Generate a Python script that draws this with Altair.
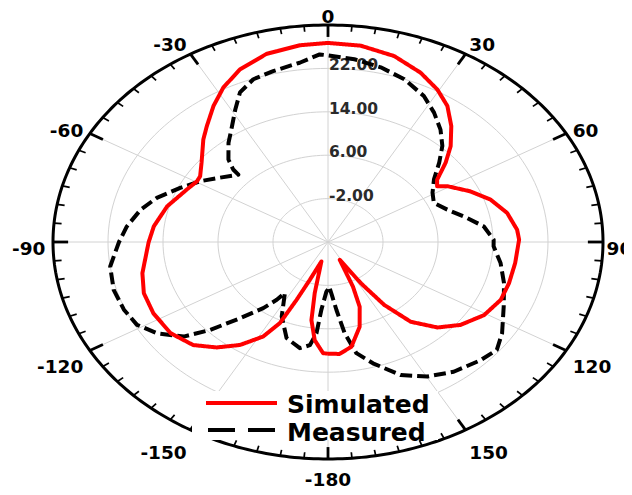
import altair as alt
import pandas as pd

# ---------------- data ----------------
sim_angle = [-180, -178, -173.9, -170.5, -168.4, -165, -159.2, -156.8, -154.9, -151.6, -146,
             -140.2, -134.1, -126.3, -117.4, -109.4, -102, -90.2, -83.5, -74.3, -64.8,
             -59.6, -56.9, -51.5, -43.8, -39.5, -33.6, -28.1, -21.9, -14.5, -6.4,
             0, 7.5, 15.7, 23.3, 29.5, 34.7, 40, 45.3, 49.5, 54.1,
             57.1, 59.4, 65.7, 71.7, 78.4, 85.3, 89.1, 98.1, 106.1, 113,
             120.7, 128.4, 134.7, 140.7, 144.8, 147.8, 152.5, 156.2, 158.9, 163.6,
             170, 175.3, 180]
sim_db = [10.6, 10.5, 8.2, 4.6, -0.4, -6.3, -2.5, 1.6, 6.5, 9.8, 12.9,
          15.3, 17.3, 18.4, 18.6, 18.4, 17.6, 16.1, 15.5, 14.3, 12.7,
          12.1, 12.2, 13.5, 16.2, 17.7, 20.1, 22.3, 24.3, 25.8, 26.5,
          26.7, 26.5, 25.6, 24.0, 22.3, 20.5, 17.9, 15.1, 12.5, 9.6,
          8.9, 10.2, 12.7, 14.9, 16.6, 17.6, 17.8, 17.5, 17.4, 17.3,
          16.4, 14.6, 12.4, 9.0, 4.2, -1.0, -6.3, -1.0, 2.8, 6.3,
          9.6, 10.7, 10.6]

meas_angle = [-180, -178.5, -175.6, -174.3, -172.1, -168.2, -161.2, -153.9, -146.3, -145,
              -142.3, -137.7, -133.4, -129.7, -124.1, -118.8, -112.8, -105.8, -98.1, -90,
              -84.4, -77.7, -71.9, -65.1, -58.9, -53, -46.4, -45.9, -43.6, -38.4,
              -33.2, -28.9, -24.9, -19.9, -14.2, -7.1, -2, 0, 6.5, 13.4,
              20.3, 27.4, 32.9, 38.3, 43.2, 47.9, 53.2, 59.2, 64.9, 71,
              77.6, 82.8, 89, 91.9, 98.8, 106.5, 115, 123.6, 129, 134.5,
              142.6, 149.8, 156.7, 163.7, 168.6, 171.8, 174.4, 176.5, 178.5, 180]
meas_db = [-1.3, -0.8, 2.5, 6.9, 9.2, 10.0, 8.7, 5.3, 1.3, 3.0,
           5.4, 9.0, 13.6, 17.3, 20.0, 21.7, 22.2, 22.4, 22.0, 20.4,
           19.4, 17.9, 16.2, 13.7, 11.7, 9.7, 8.0, 9.2, 11.0, 13.3,
           15.5, 17.9, 20.4, 21.9, 22.5, 23.3, 24.6, 24.4, 23.9, 23.1,
           22.0, 20.3, 18.4, 16.4, 14.3, 11.8, 9.25, 7.7, 7.0, 8.35,
           10.7, 12.85, 14.1, 14.1, 15.4, 16.7, 18.2, 20.4, 21.6, 21.1,
           20.1, 18.7, 16.7, 13.3, 10.9, 7.0, 2.6, 0.0, -1.6, -1.3]

series_names = ["Simulated", "Measured"]
series_colors = ["#ff0000", "#000000"]

ring_db = [-2, 6, 14, 22]
ring_text = ["-2.00", "6.00", "14.00", "22.00"]
spoke_angles = [0, 30, 60, 90, 120, 150, 180, 210, 240, 270, 300, 330]
label_angles = [0, 30, 60, 90, 120, 150, 180, 210, 240, 270, 300, 330]
label_text = ["0", "30", "60", "90", "120", "150", "-180", "-150", "-120", "-90", "-60", "-30"]
R_MIN, R_MAX = -10, 30
SPAN = R_MAX - R_MIN

# ---------------- helpers ----------------
W, H = 550, 434
xs = alt.Scale(domain=[-SPAN, SPAN], nice=False, zero=False)
ys = alt.Scale(domain=[-SPAN, SPAN], nice=False, zero=False)
FONT = "DejaVu Sans"


def polar(r_expr, a="datum.angle", xn="px", yn="py"):
    return {xn: f"({r_expr})*sin(({a})*PI/180)", yn: f"({r_expr})*cos(({a})*PI/180)"}


def XY(xn="px", yn="py"):
    return dict(x=alt.X(f"{xn}:Q", scale=xs, axis=None), y=alt.Y(f"{yn}:Q", scale=ys, axis=None))


# grid rings
grid_df = pd.DataFrame([(v, a) for v in ring_db for a in range(0, 361, 2)], columns=["v", "angle"])
grid = alt.Chart(grid_df).transform_calculate(
    **polar(f"datum.v - ({R_MIN})")
).mark_line(color="#d2d2d2", strokeWidth=1).encode(
    **XY(), detail="v:N", order="angle:Q")

# spokes
spoke_df = pd.DataFrame({"angle": spoke_angles})
spokes = alt.Chart(spoke_df).transform_calculate(
    x0="0", y0="0", **polar(str(SPAN), xn="x1", yn="y1")
).mark_rule(color="#d2d2d2", strokeWidth=1).encode(
    x=alt.X("x0:Q", scale=xs, axis=None), y=alt.Y("y0:Q", scale=ys, axis=None),
    x2="x1:Q", y2="y1:Q")

# outer ring
outer_df = pd.DataFrame({"angle": list(range(0, 361))})
outer = alt.Chart(outer_df).transform_calculate(
    **polar(str(SPAN))
).mark_line(color="black", strokeWidth=3).encode(**XY(), order="angle:Q")


# ticks on the outer ring (every 5 degrees, longer every 30), drawn as short segments
def tick_layer(angles, length, width):
    rows = []
    for a in angles:
        rows.append((a, SPAN, 0))
        rows.append((a, SPAN - length, 1))
    df = pd.DataFrame(rows, columns=["angle", "rr", "k"])
    return alt.Chart(df).transform_calculate(
        **polar("datum.rr")
    ).mark_line(color="black", strokeWidth=width).encode(
        **XY(), detail="angle:N", order="k:Q")


minor_ticks = tick_layer([a for a in range(0, 360, 5) if a % 30 != 0], 1.1, 1.7)
major_ticks = tick_layer([a for a in range(0, 360, 30)], 2.2, 2.8)

# radial labels
rl_df = pd.DataFrame({"v": ring_db, "t": ring_text})
rlabels = alt.Chart(rl_df).transform_calculate(
    px="0", py=f"datum.v - ({R_MIN})"
).mark_text(font=FONT, fontWeight="bold", fontSize=15.5, color="#2a2a2a",
            align="left", baseline="middle", dx=1, dy=-3).encode(**XY(), text="t:N")

# angle labels
al_df = pd.DataFrame({"angle": label_angles, "t": label_text})


def alayer(sel, align, dy, dx=0):
    return alt.Chart(al_df[sel].reset_index(drop=True)).transform_calculate(
        px="41.1*sin(datum.angle*PI/180)", py="43.5*cos(datum.angle*PI/180)"
    ).mark_text(font=FONT, fontWeight="bold", fontSize=18.5, color="black",
                align=align, baseline="middle", dy=dy, dx=dx).encode(**XY(), text="t:N")


ang = al_df["angle"]
alab = [
    alayer(ang == 0, "center", 11),
    alayer(ang == 180, "center", 2),
    alayer((ang > 0) & (ang < 180) & (ang != 90), "left", 7),
    alayer(ang == 90, "left", 7, -4),
    alayer(ang > 180, "right", 7),
]

# curves
sim_df = pd.DataFrame({"angle": sim_angle, "db": sim_db, "idx": range(len(sim_angle))})
meas_df = pd.DataFrame({"angle": meas_angle, "db": meas_db, "idx": range(len(meas_angle))})


def curve(df, color, dash):
    return alt.Chart(df).transform_calculate(
        **polar(f"max(datum.db - ({R_MIN}), 0)")
    ).mark_line(color=color, strokeWidth=4, strokeDash=dash, strokeJoin="round").encode(
        **XY(), order="idx:Q")


meas_line = curve(meas_df, series_colors[1], [12, 5])
sim_line = curve(sim_df, series_colors[0], [1, 0])

# legend (drawn as a small box)
one = pd.DataFrame({"k": [0]})
leg_bg = alt.Chart(one).mark_rect(fill="white").encode(
    x=alt.value(139), x2=alt.value(385), y=alt.value(366), y2=alt.value(415))
leg_sim = alt.Chart(one).mark_rule(color=series_colors[0], strokeWidth=4).encode(
    x=alt.value(153), x2=alt.value(224), y=alt.value(378))
leg_meas = alt.Chart(one).mark_rule(color=series_colors[1], strokeWidth=4, strokeDash=[27, 13]).encode(
    x=alt.value(155), x2=alt.value(224), y=alt.value(405))
leg_t1 = alt.Chart(one).mark_text(font=FONT, fontWeight="bold", fontSize=25, align="left",
                                  baseline="alphabetic", color="black").encode(
    x=alt.value(234), y=alt.value(388), text=alt.value(series_names[0]))
leg_t2 = alt.Chart(one).mark_text(font=FONT, fontWeight="bold", fontSize=25, align="left",
                                  baseline="alphabetic", color="black").encode(
    x=alt.value(234), y=alt.value(416), text=alt.value(series_names[1]))

chart = alt.layer(
    grid, spokes, rlabels, outer, minor_ticks, major_ticks, *alab,
    meas_line, sim_line, leg_bg, leg_sim, leg_meas, leg_t1, leg_t2
).properties(
    width=W, height=H,
    padding={"left": 45, "top": 17, "right": 21, "bottom": 28},
    autosize=alt.AutoSizeParams(type="none"),
    background="white",
).configure_view(stroke=None)

chart.save("out.html", embed_options={"renderer": "svg", "actions": False})
